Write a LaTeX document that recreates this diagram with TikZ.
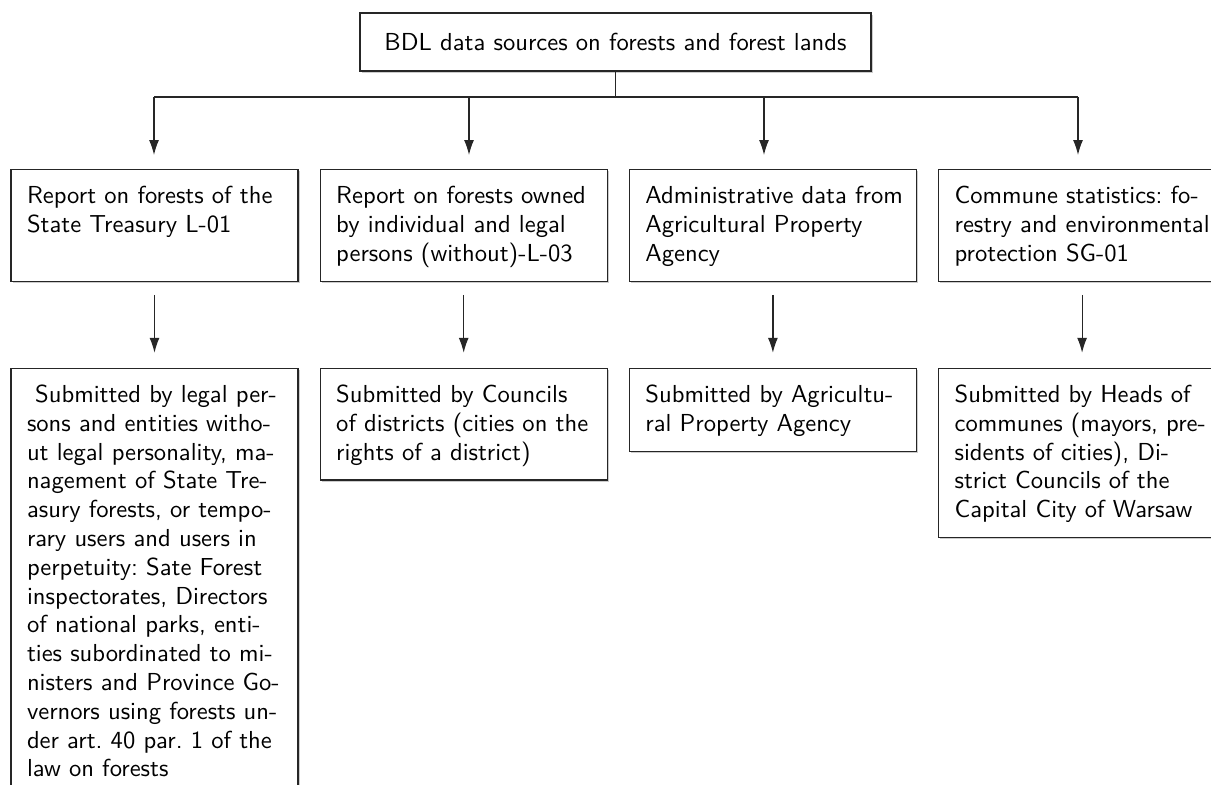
\documentclass[tikz,border=0pt]{standalone}
\usepackage{fontspec}
\usepackage{tikz}
\usetikzlibrary{positioning,arrows.meta,shadows}
\newfontfamily\boxfont{lmsans10-regular.otf}
\frenchspacing

\begin{document}
\begin{tikzpicture}[scale=1]
  \tikzset{base style/.style = {draw=black!85, line width=0.6pt, fill=white, font=\boxfont\fontsize{12.3}{14.4}\selectfont,
             drop shadow={shadow xshift=0.9pt, shadow yshift=-0.9pt, opacity=0.4}},
           box style/.style = {base style, align=left, text width=127.5pt, inner sep=8pt, text height=9pt,
             execute at begin node={\rightskip=0pt plus 1fil minus 10pt}},
           top style/.style = {base style, minimum width=255.5pt, minimum height=29pt},
           line style/.style = {draw=black!85, line width=0.6pt},
           arrow style/.style = {line style, -{Latex[length=7.5pt,width=5pt]}}}
  \useasboundingbox (0,0) rectangle (605.5pt,-392pt);

  \node[top style] (bdl) at (307.75pt,-21pt) {BDL data sources on forests and forest lands};

  \node[box style, text depth=30.8pt, anchor=north] (rep1) at (77.25pt,-84.5pt) {Report on forests of the\\State Treasury L-01};
  \node[box style, text depth=30.8pt, right=10.5pt of rep1] (rep2) {Report on forests owned\\by individual and legal\\persons (without)-L-03};
  \node[box style, text depth=30.8pt, right=10.5pt of rep2] (rep3) {Administrative data from\\Agricultural Property\\Agency};
  \node[box style, text depth=30.8pt, right=10.5pt of rep3] (rep4) {Commune statistics: fo-\\restry and environmental\\protection SG-01};

  \node[box style, text depth=189.2pt, below=43pt of rep1] (sub1) {\ Submitted by legal per-\\sons and entities witho-\\ut legal personality, ma-\\nagement of State Tre-\\asury forests, or tempo-\\rary users and users in\\perpetuity: Sate Forest\\inspectorates, Directors\\of national parks, enti-\\ties subordinated to mi-\\nisters and Province Go-\\vernors using forests un-\\der art. 40 par. 1 of the\\law on forests};
  \node[box style, text depth=30.8pt, below=43pt of rep2] (sub2) {Submitted by Councils\\of districts (cities on the\\rights of a district)};
  \node[box style, text depth=16.4pt, below=43pt of rep3] (sub3) {Submitted by Agricultu-\\ral Property Agency};
  \node[box style, text depth=59.6pt, below=43pt of rep4] (sub4) {Submitted by Heads of\\communes (mayors, pre-\\sidents of cities), Di-\\strict Councils of the\\Capital City of Warsaw};

  \coordinate (b1) at (77pt,-48.5pt);
  \coordinate (b2) at (234.5pt,-48.5pt);
  \coordinate (b3) at (382pt,-48.5pt);
  \coordinate (b4) at (539pt,-48.5pt);
  \draw[line style] (bdl.south) -- (bdl.south |- b1);
  \draw[line style] (b1) -- (b4);
  \foreach \i in {1,...,4}
    \draw[arrow style, shorten >=7pt] (b\i) -- (b\i |- rep\i.north);
  \foreach \i in {1,...,4}
    \draw[arrow style, shorten <=6.5pt, shorten >=7.5pt] (rep\i.south) -- (sub\i.north);
\end{tikzpicture}
\end{document}
